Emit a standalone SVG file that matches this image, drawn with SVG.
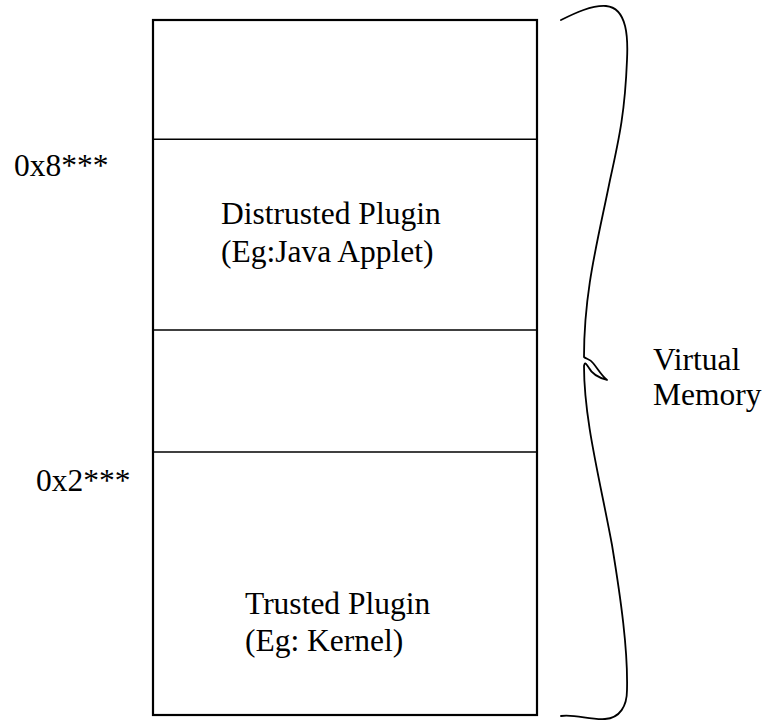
<svg xmlns="http://www.w3.org/2000/svg" width="766" height="721" viewBox="0 0 766 721">
<style>
.box{fill:#fff;stroke:#000;stroke-width:2.2}
.ln{stroke:#000;stroke-width:1.4;fill:none}
.brace{stroke:#000;stroke-width:1.8;fill:none;stroke-linecap:round;stroke-linejoin:round}
text{font-family:"Liberation Serif","Times New Roman",serif;font-size:31.5px;fill:#000}
</style>
<rect width="766" height="721" fill="#fff"/>
<g id="memory">
<rect class="box" x="153" y="20" width="384" height="695"/>
<line class="ln" x1="153" y1="139.3" x2="537" y2="139.3"/>
<line class="ln" x1="153" y1="330" x2="537" y2="330"/>
<line class="ln" x1="153" y1="452" x2="537" y2="452"/>
</g>
<g id="distrusted">
<text x="221" y="224">Distrusted Plugin</text>
<text x="221" y="262">(Eg:Java Applet)</text>
</g>
<g id="trusted">
<text x="245" y="614">Trusted Plugin</text>
<text x="245" y="651">(Eg: Kernel)</text>
</g>
<g id="addr8"><text x="14" y="176">0x8***</text></g>
<g id="addr2"><text x="36" y="491">0x2***</text></g>
<g id="virtual">
<text x="653" y="370">Virtual</text>
<text x="653" y="405">Memory</text>
</g>
<g id="connectors">
<path class="brace" d="M561,20 C575,13 592,5 606,6 C628,8 628,40 627,60 C625,110 620,135 610,180 C598,240 584,290 584,357 C586,359 590,359 593,363 C598,369 601,375 607,380 C600,378 592,374 589,368 C586,364 585,361 584,366 C584,420 600,480 612,545 C621,600 628,650 627,690 C627,706 620,718 605,719 C590,720 575,714 561,716"/>
</g>
</svg>
